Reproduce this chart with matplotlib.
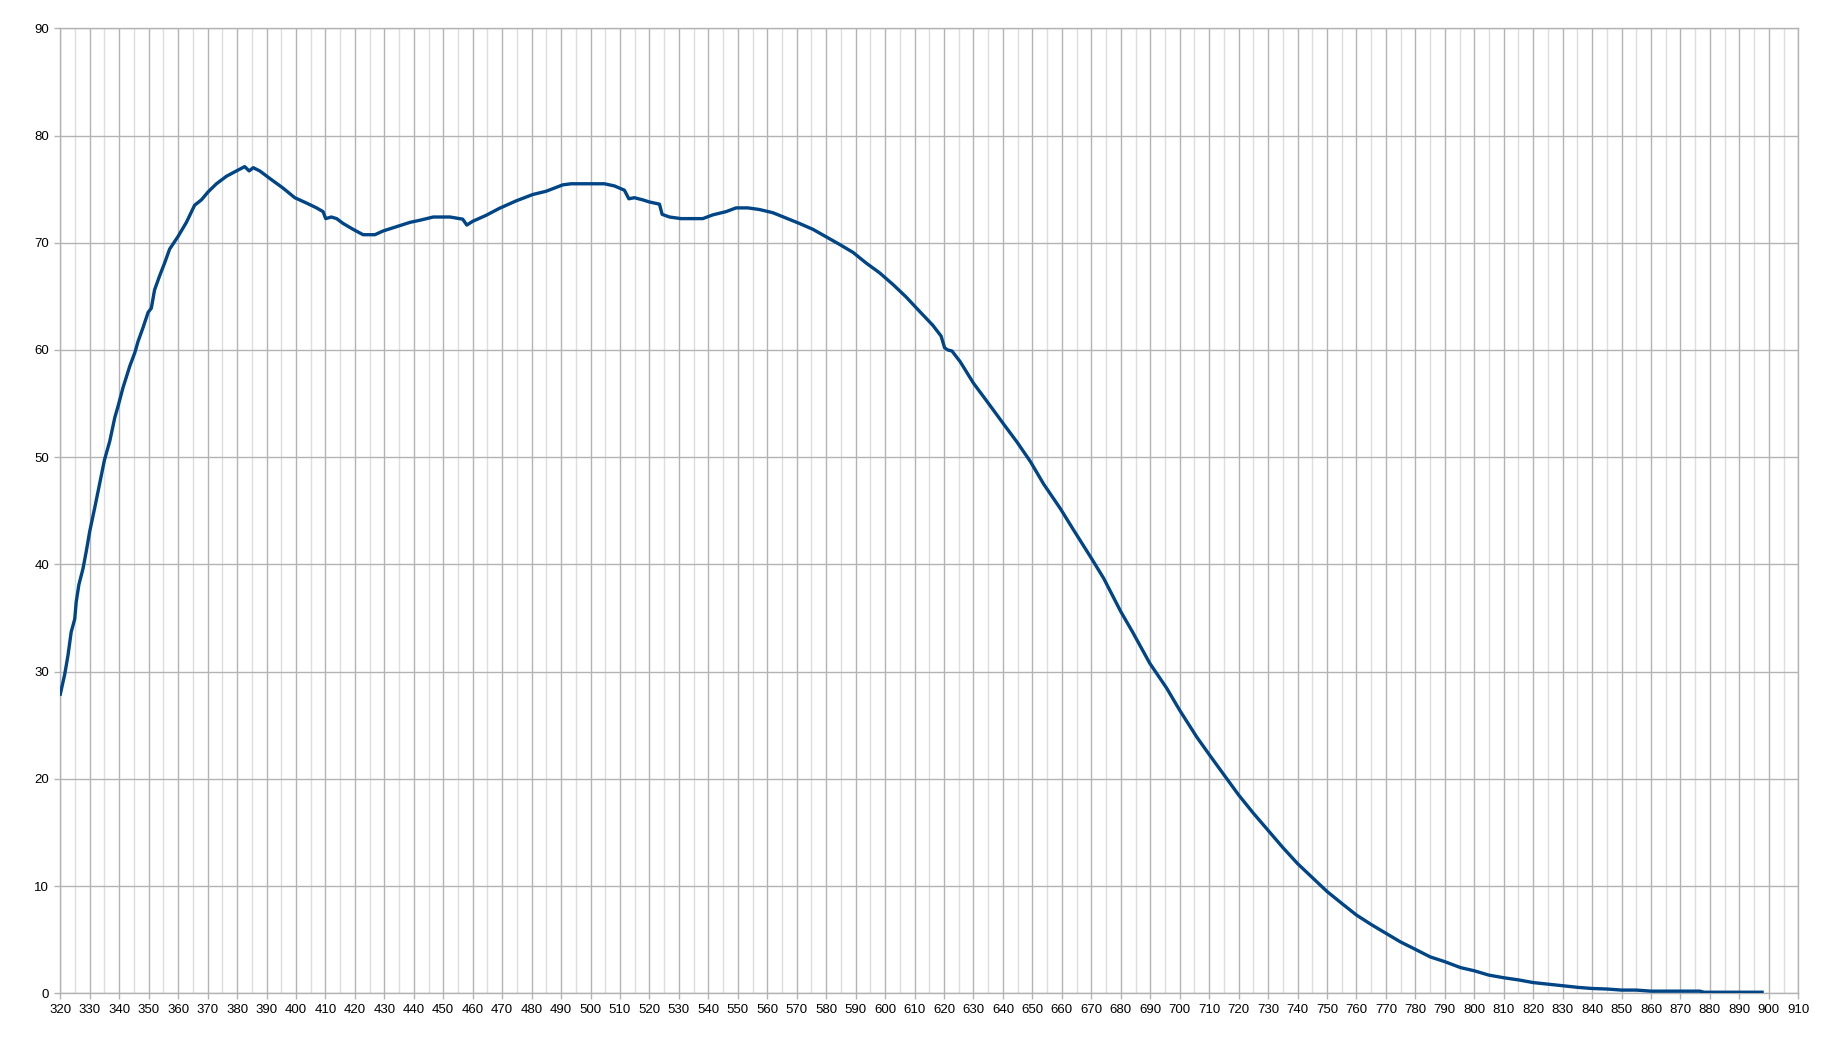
import matplotlib
matplotlib.use("Agg")
import matplotlib.pyplot as plt
from matplotlib.ticker import MultipleLocator

plt.rcParams['font.family'] = ['Liberation Sans', 'DejaVu Sans']

wavelength = [320, 321.5, 322.6, 323.7, 324.9, 325.4, 326.3, 327.7, 328.8, 330,
              331.7, 333.4, 335, 336.8, 338.5, 339.6, 341.3, 343.6, 345.3, 346.4,
              348.1, 349.8, 350.9, 352, 353.7, 355.4, 357.1, 360, 362.8, 365.6,
              367.9, 370.2, 373, 376.4, 379.8, 382.6, 384.1, 385.5, 387.7, 391.1,
              395.6, 399.6, 403.6, 407, 409.2, 410.1, 412, 413.8, 416, 419.4,
              422.8, 426.8, 429.6, 434.2, 438.7, 442.1, 446.6, 452.3, 456.6, 458,
              460, 464.5, 469, 474.7, 480.4, 484.9, 490.6, 493.4, 504.7, 508.1,
              511.5, 513, 514.9, 517.7, 520, 523.4, 524.3, 526.8, 530.7, 538.1,
              541.5, 546, 549.4, 553.4, 557.3, 561.9, 566.4, 570.9, 575.5, 580,
              584.5, 589.1, 593.6, 598.1, 602.7, 607.1, 611.7, 616.2, 619, 620.2,
              621.3, 622.7, 625.5, 630, 634.6, 640.2, 644.8, 649.3, 653.8, 659.5,
              664, 670.2, 674.2, 680, 684, 689.8, 695.6, 700, 705.8, 710.2,
              716, 720, 725, 730, 735, 740, 745.2, 750, 755.4, 760,
              765.1, 770, 774.9, 780, 785, 790, 795.3, 800, 804.9, 810,
              815, 820, 825.1, 830, 835.3, 840, 845, 850, 855, 860,
              865, 870, 876.6, 878, 888, 897.7]

transmission = [27.9, 29.75, 31.5, 33.7, 34.9, 36.5, 38.1, 39.6, 41.2, 43.1,
                45.3, 47.6, 49.75, 51.5, 53.7, 54.75, 56.5, 58.5, 59.75, 60.8,
                62.1, 63.5, 63.9, 65.6, 66.9, 68.1, 69.4, 70.6, 71.9, 73.5,
                74.0, 74.75, 75.5, 76.2, 76.7, 77.1, 76.7, 77.0, 76.7, 76.0,
                75.1, 74.2, 73.7, 73.25, 72.9, 72.25, 72.4, 72.25, 71.8, 71.25,
                70.75, 70.75, 71.1, 71.5, 71.9, 72.1, 72.4, 72.4, 72.2, 71.65,
                72.0, 72.55, 73.2, 73.9, 74.5, 74.8, 75.4, 75.5, 75.5, 75.3,
                74.9, 74.1, 74.2, 74.0, 73.8, 73.6, 72.65, 72.4, 72.25, 72.25,
                72.6, 72.9, 73.25, 73.25, 73.1, 72.8, 72.3, 71.8, 71.25, 70.55,
                69.85, 69.1, 68.1, 67.2, 66.1, 64.95, 63.6, 62.3, 61.3, 60.2,
                60.0, 59.9, 58.9, 56.9, 55.2, 53.1, 51.4, 49.6, 47.5, 45.2,
                43.2, 40.5, 38.7, 35.6, 33.7, 30.8, 28.45, 26.4, 23.9, 22.2,
                20.0, 18.5, 16.8, 15.2, 13.6, 12.1, 10.75, 9.5, 8.3, 7.3,
                6.4, 5.6, 4.8, 4.1, 3.4, 2.95, 2.4, 2.1, 1.7, 1.45,
                1.25, 1.0, 0.85, 0.7, 0.55, 0.45, 0.4, 0.3, 0.3, 0.2,
                0.2, 0.2, 0.2, 0.1, 0.1, 0.1]

x_ticks = list(range(320, 911, 10))
y_ticks = list(range(0, 91, 10))

fig = plt.figure(figsize=(18.45, 10.38), dpi=100)
ax = fig.add_axes([60.3 / 1845, 1 - 993.3 / 1038, (1798.3 - 60.3) / 1845, (993.3 - 28.3) / 1038])

ax.plot(wavelength, transmission, color='#004586', lw=2.4, solid_joinstyle='round', zorder=3)

ax.set_xlim(320, 910)
ax.set_ylim(0, 90)
ax.set_xticks(x_ticks)
ax.set_yticks(y_ticks)
ax.xaxis.set_minor_locator(MultipleLocator(5))
ax.grid(which='major', axis='both', color='#b3b3b3', lw=1.0)
ax.grid(which='minor', axis='x', color='#dddddd', lw=1.0)
ax.set_axisbelow(True)
for s in ax.spines.values():
    s.set_color('#b3b3b3')
    s.set_linewidth(1.0)
ax.tick_params(which='major', length=4, width=1, color='#b3b3b3', labelsize=9.5, labelcolor='#000000', pad=4)
ax.tick_params(which='minor', length=0)

fig.savefig('out.png', dpi=100, facecolor='white')
